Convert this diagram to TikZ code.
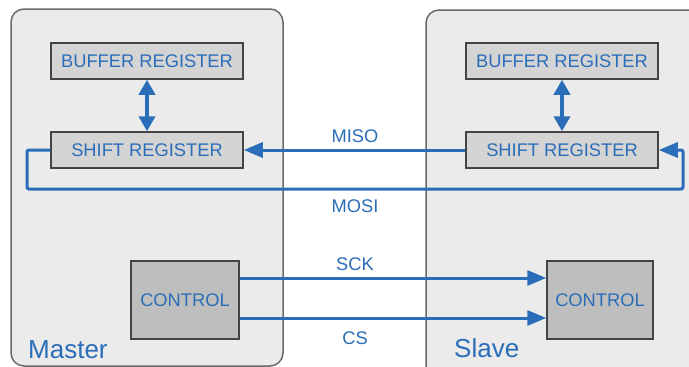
\documentclass[tikz,border=0pt]{standalone}
\usepackage{fontspec}
\setmainfont{Liberation Sans}
\usetikzlibrary{arrows.meta}
\definecolor{sigblue}{HTML}{2A6DB9}
\definecolor{panelfill}{HTML}{EBEBEB}
\definecolor{panelline}{HTML}{6A6A6A}
\definecolor{regfill}{HTML}{D4D4D4}
\definecolor{ctrlfill}{HTML}{BEBEBE}
\definecolor{regline}{HTML}{444444}
\tikzset{
  panel/.style={draw=panelline, line width=1.5pt, fill=panelfill, rounded corners=13pt},
  reg/.style={draw=regline, line width=1.5pt, fill=regfill, minimum width=192pt, minimum height=36pt, inner sep=0pt, text=sigblue, font=\fontsize{18.3}{20}\selectfont},
  ctrl/.style={draw=regline, line width=1.5pt, fill=ctrlfill, minimum height=78pt, inner sep=0pt, text=sigblue, font=\fontsize{18.3}{20}\selectfont},
  sig/.style={draw=sigblue, line width=3pt},
  tip/.style={-{Triangle[length=19pt,width=15pt]}},
  dtip/.style={{Triangle[length=15pt,width=16pt]}-{Triangle[length=15pt,width=16pt]}},
  lbl/.style={text=sigblue, font=\fontsize{18.3}{20}\selectfont, inner sep=0pt},
  big/.style={text=sigblue, font=\fontsize{26}{28}\selectfont, inner sep=0pt, anchor=base west}
}
\begin{document}
\begin{tikzpicture}[x=1pt,y=-1pt]
\useasboundingbox (0,0) rectangle (689,367);
\clip (0,0) rectangle (689,367);
\fill[white] (0,0) rectangle (689,367);
% panels
\draw[panel] (11,9) rectangle (283,366);
\draw[panel] (426,10) rectangle (720,380);
% registers
\node[reg] (mbuf) at (147,61) {BUFFER REGISTER};
\node[reg] (mshift) at (147,150) {SHIFT REGISTER};
\node[reg] (sbuf) at (562,61) {BUFFER REGISTER};
\node[reg] (sshift) at (562,150) {SHIFT REGISTER};
\node[ctrl, minimum width=108pt] (mctrl) at (185,300) {CONTROL};
\node[ctrl, minimum width=106pt] (sctrl) at (600,300) {CONTROL};
% buffer <-> shift
\draw[sig, line width=4pt, dtip] (mbuf.south) -- (mshift.north);
\draw[sig, line width=4pt, dtip] (sbuf.south) -- (sshift.north);
% MISO
\draw[sig, tip] (sshift.west) -- (mshift.east);
% MOSI
\coordinate (ml) at (27,189);
\coordinate (mr) at (683,189);
\draw[sig, tip, rounded corners=2pt] (mshift.west) -| (ml) -- (mr) |- (sshift.east);
% SCK, CS
\draw[sig, tip] ([yshift=22pt]mctrl.east) -- ([yshift=22pt]sctrl.west);
\draw[sig, tip] ([yshift=-18pt]mctrl.east) -- ([yshift=-18pt]sctrl.west);
% labels
\node[lbl] (lmiso) at (355,136) {MISO};
\node[lbl] (lmosi) at (355,206) {MOSI};
\node[lbl] (lsck) at (355,264) {SCK};
\node[lbl] (lcs) at (355,338) {CS};
\node[big] (lmaster) at (28,358) {Master};
\node[big] (lslave) at (454,357) {Slave};
\end{tikzpicture}
\end{document}
